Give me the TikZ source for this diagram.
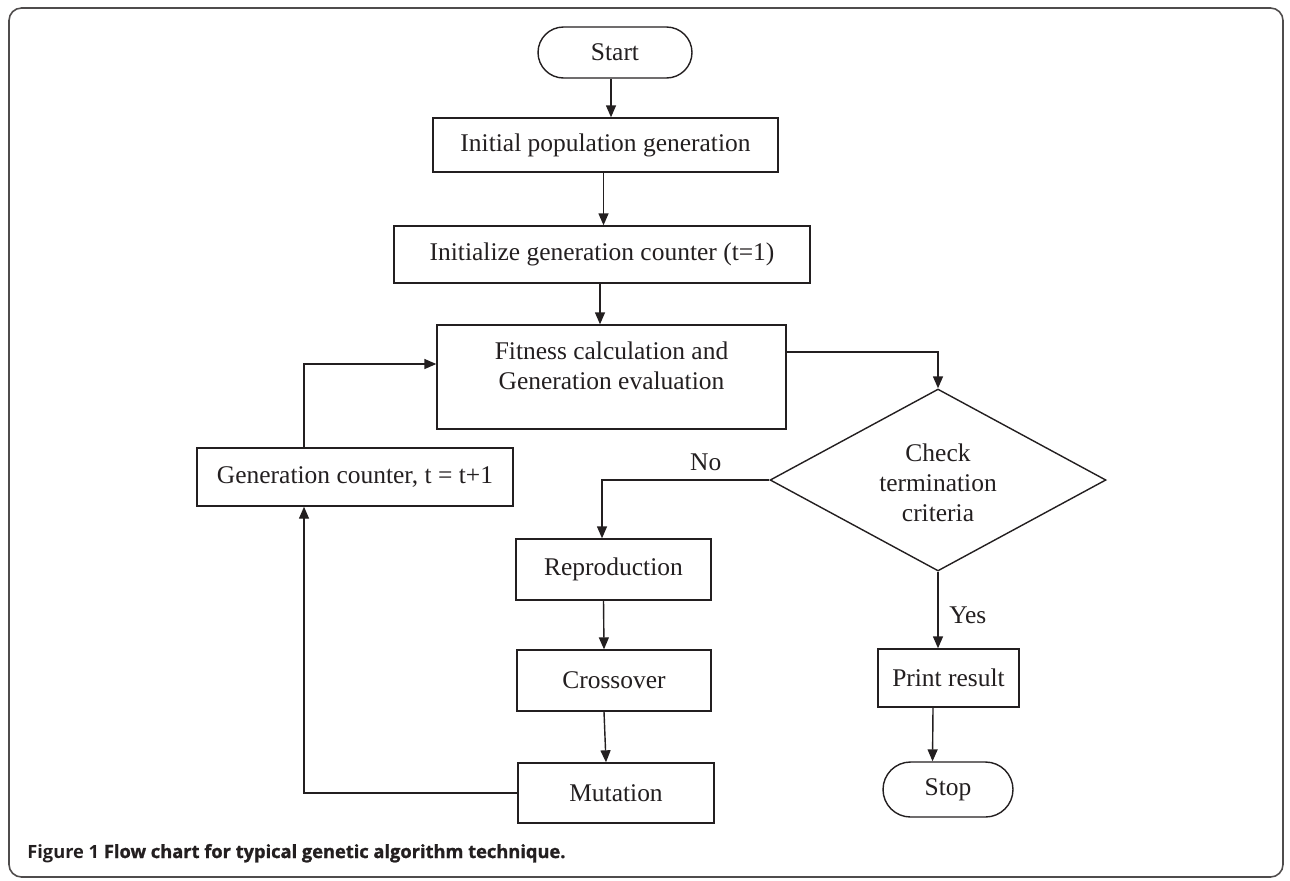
\documentclass[tikz,border=0pt]{standalone}
\usepackage{fontspec}
\setmainfont{Liberation Serif}
\newfontfamily\capfont{Open Sans}
\newfontfamily\capmid[FakeBold=1.2]{Open Sans}
\usetikzlibrary{shapes.geometric,shapes.misc,arrows.meta}
\definecolor{ink}{HTML}{231F20}
\begin{document}
\begin{tikzpicture}[x=0.02cm,y=-0.02cm]
	\tikzstyle{every node}+=[inner sep=0pt, text=ink, font=\fontsize{14.5}{17}\selectfont]
	\tikzstyle{box}=[draw=ink, line width=0.8pt, rectangle]
	\tikzstyle{term}=[draw=ink, line width=0.8pt, rounded rectangle]
	\tikzstyle{flow}=[draw=ink, line width=0.8pt, -{Triangle[length=0.24cm,width=0.2cm]}]
	\useasboundingbox (0,0) rectangle (1290,880);
	\draw [ink!80, line width=0.9pt, rounded corners=0.25cm] (9,8) rectangle (1283,877);
	% main column
	\node [term, minimum width=3.08cm, minimum height=1.02cm] (start) at (615,52.5) {Start};
	\node [box, minimum width=6.9cm, minimum height=1.08cm] (initpop) at (605.5,145) {Initial population generation};
	\node [box, minimum width=8.32cm, minimum height=1.14cm] (initcount) at (602,254.5) {Initialize generation counter (t=1)};
	\node [box, minimum width=6.98cm, minimum height=2.08cm] (fitness) at (611.5,377) {};
	\node [align=center] (fitnesstext) at (611.5,366) {Fitness calculation and\\Generation evaluation};
	% decision
	\node [diamond, draw=ink, line width=0.8pt, minimum width=6.72cm, minimum height=3.64cm] (check) at (938,480) {};
	\node [align=center] (checktext) at (938,483) {Check\\termination\\criteria};
	% loop branch
	\node [box, minimum width=6.32cm, minimum height=1.16cm] (gencount) at (355,477) {Generation counter, t = t+1};
	\node [box, minimum width=3.9cm, minimum height=1.22cm] (repro) at (613.5,569.5) {Reproduction};
	\node [box, minimum width=3.88cm, minimum height=1.22cm] (cross) at (614,680.5) {Crossover};
	\node [box, minimum width=3.92cm, minimum height=1.2cm] (mutation) at (616,793) {Mutation};
	% exit branch
	\node [box, minimum width=2.82cm, minimum height=1.16cm] (print) at (948.5,678) {Print result};
	\node [term, minimum width=2.6cm, minimum height=1.1cm] (stop) at (948,789.5) {Stop};
	% connectors
	\draw [flow] ([xshift=-0.08cm]start.south) -- ([xshift=-0.08cm]start.south |- initpop.north);
	\draw [flow] ([xshift=-0.04cm]initpop.south) -- ([xshift=-0.04cm]initpop.south |- initcount.north);
	\draw [flow] ([xshift=-0.04cm]initcount.south) -- ([xshift=-0.04cm]initcount.south |- fitness.north);
	\draw [flow] ([yshift=0.5cm]fitness.east) -| (check.north);
	\draw [flow] (check.west) -| ([xshift=-0.23cm]repro.north) node [pos=0.19, above=5pt] (nolabel) {No};
	\draw [flow] ([xshift=-0.2cm]repro.south) -- ([xshift=-0.2cm]cross.north);
	\draw [flow] ([xshift=-0.2cm]cross.south) -- ([xshift=-0.2cm]mutation.north);
	\draw [flow] (mutation.west) -| ([xshift=-1.02cm]gencount.south);
	\draw [flow] ([xshift=-1.02cm]gencount.north) |- ([yshift=0.26cm]fitness.west);
	\draw [flow] (check.south) -- (print.north -| check.south) node [pos=0.57, right=6pt] (yeslabel) {Yes};
	\draw [flow] ([xshift=-0.31cm]print.south) -- ([xshift=-0.31cm]stop.north);
	% caption
	\node [anchor=base west, font=\fontsize{10.4}{12}\selectfont] (caption) at (27,858) {\capfont\bfseries Figure 1 \capmid Flow chart for typical genetic algorithm technique.};
\end{tikzpicture}
\end{document}
